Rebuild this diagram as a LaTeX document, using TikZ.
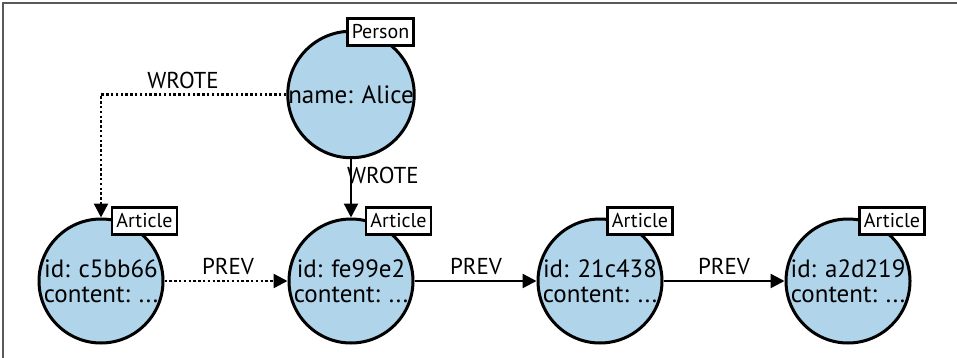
\documentclass[tikz,border=0pt]{standalone}
\usepackage{fontspec}
\setmainfont{PT Sans}
\usetikzlibrary{arrows.meta}
\definecolor{nodeblue}{RGB}{176,212,234}
\begin{document}
\begin{tikzpicture}[x=1pt,y=-1pt,
  gnode/.style={circle,draw=black,line width=3pt,fill=nodeblue,minimum size=124pt,inner sep=0pt,align=center,font=\fontsize{25}{25}\selectfont},
  typebox/.style={draw=black,line width=2.6pt,fill=white,inner xsep=4.5pt,inner ysep=0pt,minimum height=27pt,font=\fontsize{20}{20}\selectfont},
  edgelbl/.style={font=\fontsize{23}{23}\selectfont,inner sep=0pt},
  rel/.style={line width=2.4pt,-{Triangle[length=14pt,width=14pt]}},
  relD/.style={rel,dash pattern=on 2.4pt off 2.4pt}
]
\useasboundingbox (0,0) rectangle (957,358);
\draw[gray!70!black,line width=1.6pt] (3,358) -- (3,3) -- (957,3);

\node[gnode] (alice) at (351,94.5) {name: Alice};
\node[gnode] (a1) at (101,281) {id: c5bb66\\content: ...};
\node[gnode] (a2) at (351,281) {id: fe99e2\\content: ...};
\node[gnode] (a3) at (600,281) {id: 21c438\\content: ...};
\node[gnode] (a4) at (848,281) {id: a2d219\\content: ...};

\node[typebox] (tp) at (380.5,32) {Person};
\node[typebox] (t1) at (144.5,221) {Article};
\node[typebox] (t2) at (398.5,221) {Article};
\node[typebox] (t3) at (640,221) {Article};
\node[typebox] (t4) at (892,221) {Article};

\coordinate (bend) at (101,94.5);
\draw[relD] (alice.west) -- (bend) -- (a1.north);
\node[edgelbl] (lw1) at (183,80) {WROTE};
\draw[rel] (alice.south) -- (a2.north);
\node[edgelbl,anchor=west] (lw2) at (347,175) {WROTE};

\draw[relD] (a1.east) -- (a2.west);
\draw[rel] (a2.east) -- (a3.west);
\draw[rel] (a3.east) -- (a4.west);
\node[edgelbl] (lp1) at (228,266) {PREV};
\node[edgelbl] (lp2) at (476,266) {PREV};
\node[edgelbl] (lp3) at (724,266) {PREV};
\end{tikzpicture}
\end{document}
